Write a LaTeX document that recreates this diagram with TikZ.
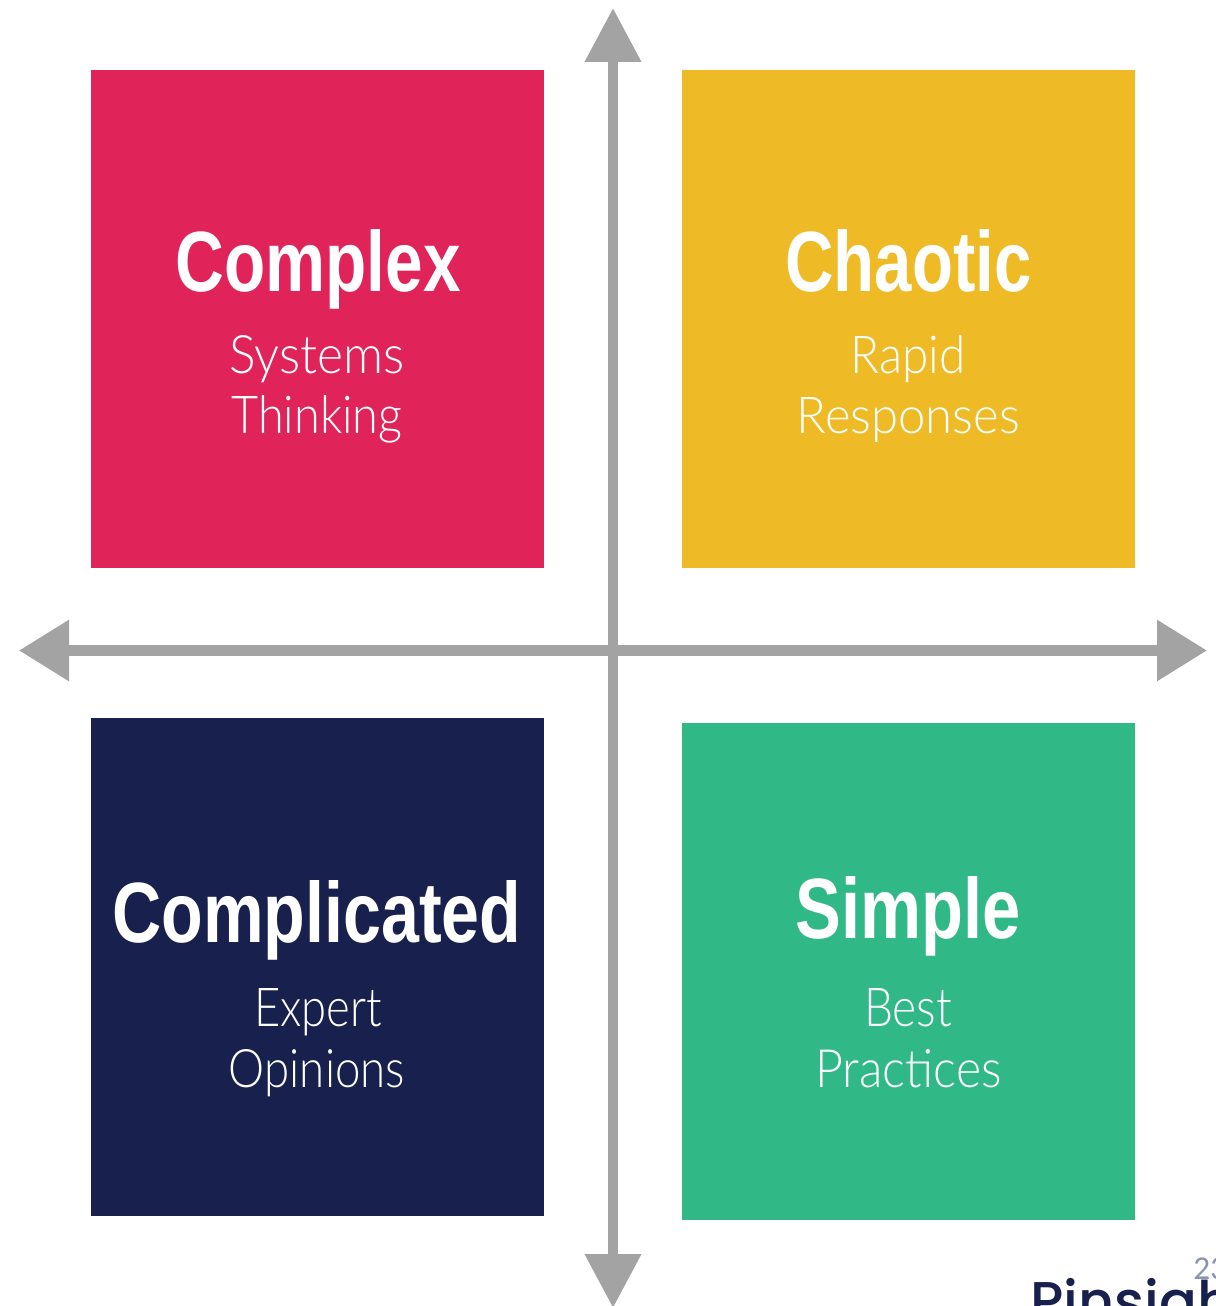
\documentclass[tikz,border=0pt]{standalone}
\usepackage{graphicx}
\usepackage{fontspec}
\setmainfont{Liberation Sans}
\newfontfamily\logofont[UprightFont=* Medium]{Poppins}
\newfontfamily\numfont{Carlito}
\newfontfamily\lightfont[UprightFont=* Light]{Lato}
\usetikzlibrary{arrows.meta}
\definecolor{crimson}{HTML}{E0245A}
\definecolor{amber}{HTML}{EEBA26}
\definecolor{navy}{HTML}{18204D}
\definecolor{jade}{HTML}{30B987}
\definecolor{axisgrey}{HTML}{A3A3A3}
\definecolor{pagenum}{HTML}{8A93B0}
\tikzset{
  quad/.style={draw=none,minimum width=340.1pt,inner sep=0pt,outer sep=0pt},
  headline/.style={text=white,font=\bfseries,inner sep=0pt,anchor=base},
  subline/.style={text=white,font=\lightfont,inner sep=0pt,anchor=base},
  axisv/.style={draw=axisgrey,line width=7.8pt,-{Triangle[length=40.5pt,width=40.5pt]}},
  axish/.style={draw=axisgrey,line width=7.8pt,-{Triangle[length=37.5pt,width=44pt]}},
}
\newcommand{\fitword}[3]{\resizebox{\dimexpr#1pt*3/4\relax}{\dimexpr#2pt*3/4\relax}{#3}}
\begin{document}
\begin{tikzpicture}[x=0.75pt,y=-0.75pt]
\useasboundingbox (0,0) rectangle (1215,1306);
\clip (0,0) rectangle (1215,1306);
\fill[white] (0,0) rectangle (1215,1306);
% quadrants
\node[quad,fill=crimson,minimum height=372.75pt] (cx) at (317.5,319) {};
\node[quad,fill=amber,minimum height=372.75pt] (ch) at (908.5,319) {};
\node[quad,fill=navy,minimum height=373.1pt] (cd) at (317.5,967) {};
\node[quad,fill=jade,minimum height=372.75pt] (si) at (908.5,971) {};
% axes
\coordinate (top) at (613,8);
\coordinate (bot) at (613,1308);
\coordinate (lft) at (19,650.5);
\coordinate (rgt) at (1207,650.5);
\coordinate (mid) at (613,650.5);
\draw[axisv] (mid) -- (top);
\draw[axisv] (mid) -- (bot);
\draw[axish] (mid) -- (lft);
\draw[axish] (mid) -- (rgt);
% text
\node[headline] (t1) at (318,291) {\fitword{285}{62}{Complex}};
\node[subline] (s1a) at (317,373) {\fitword{175}{38}{Systems}};
\node[subline] (s1b) at (317,433) {\fitword{171}{38}{Thinking}};
\node[headline] (t2) at (908.5,291) {\fitword{246}{62}{Chaotic}};
\node[subline] (s2a) at (908,373) {\fitword{115}{38}{Rapid}};
\node[subline] (s2b) at (908.5,433) {\fitword{223}{36}{Responses}};
\node[headline] (t3) at (317,942) {\fitword{409}{62}{Complicated}};
\node[subline] (s3a) at (318,1026) {\fitword{128}{38}{Expert}};
\node[subline] (s3b) at (317,1087) {\fitword{176}{38}{Opinions}};
\node[headline] (t4) at (908,938) {\fitword{225}{62}{Simple}};
\node[subline] (s4a) at (908,1026) {\fitword{88}{38}{Best}};
\node[subline] (s4b) at (908.5,1087) {\fitword{186}{38}{Practices}};
% logo and page number
\node[inner sep=0pt,anchor=base west,text=navy] (logo) at (1030,1321) {\logofont\fontsize{42}{42}\selectfont Pinsigh};
\node[inner sep=0pt,anchor=base west,text=pagenum] (pg) at (1193,1279) {\numfont\fontsize{25}{25}\selectfont 23};
\end{tikzpicture}
\end{document}
